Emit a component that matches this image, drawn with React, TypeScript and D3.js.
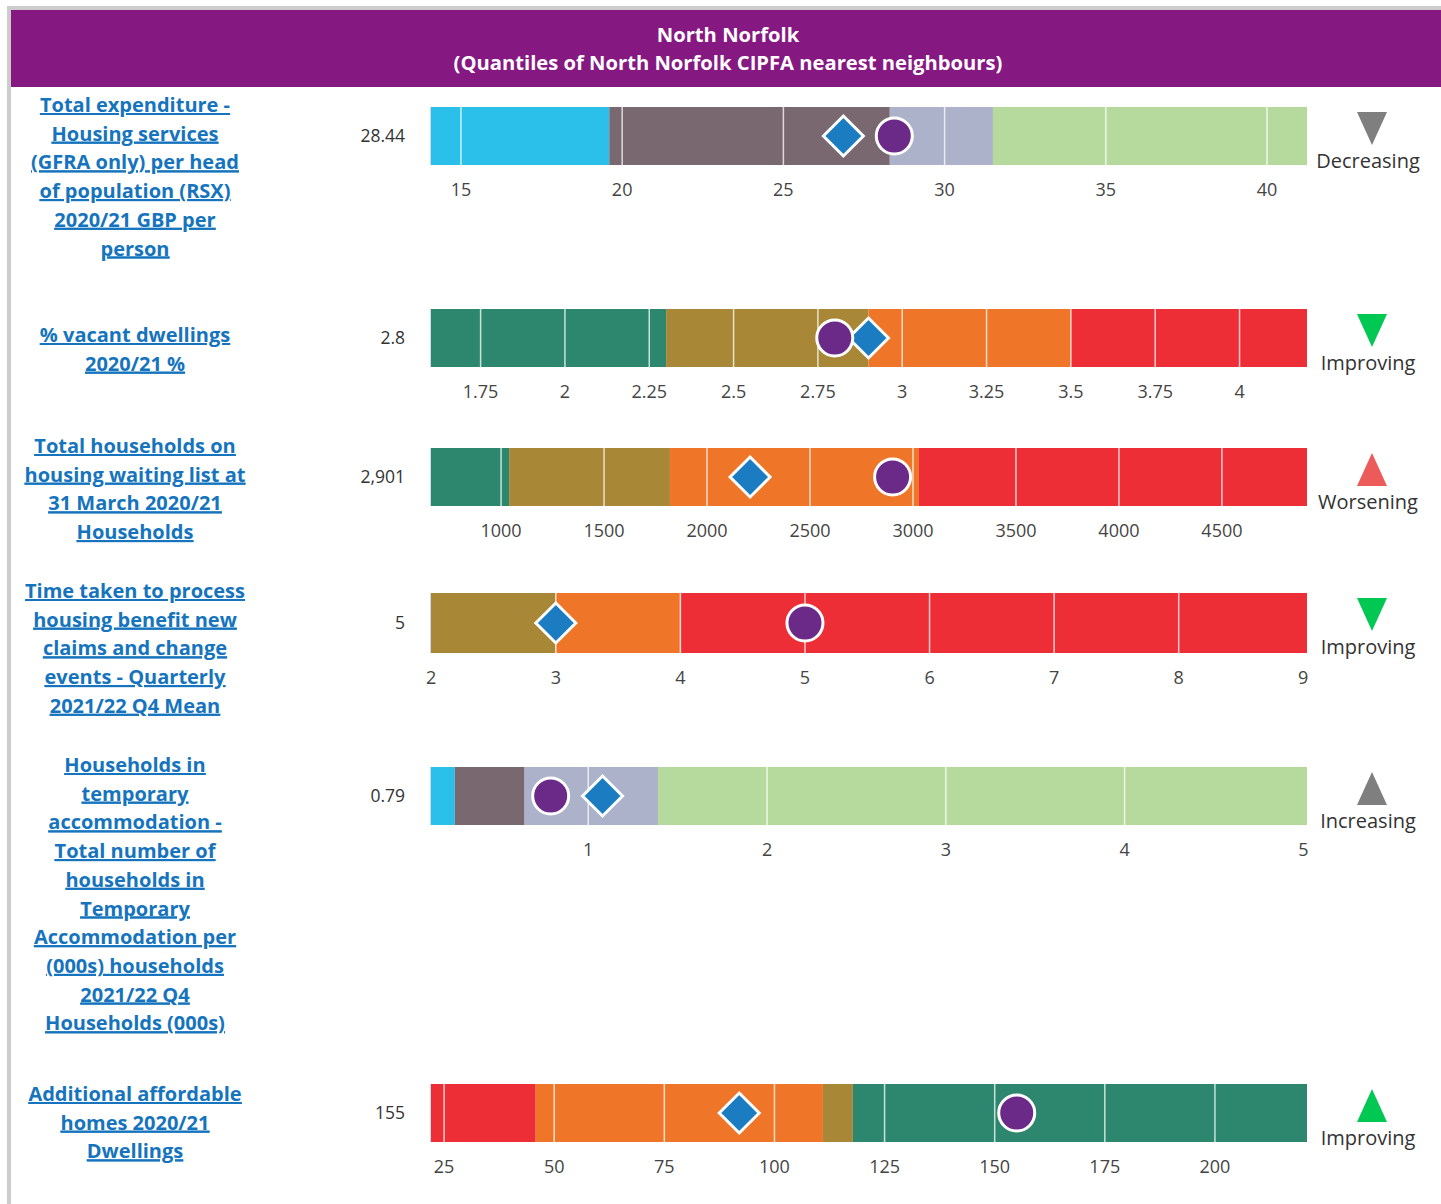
import React from "react";
import * as d3 from "d3";

// ---- data ----
const indicatorLabels = [
  ["Total expenditure -", "Housing services", "(GFRA only) per head", "of population (RSX)", "2020/21 GBP per", "person"],
  ["% vacant dwellings", "2020/21 %"],
  ["Total households on", "housing waiting list at", "31 March 2020/21", "Households"],
  ["Time taken to process", "housing benefit new", "claims and change", "events - Quarterly", "2021/22 Q4 Mean"],
  ["Households in", "temporary", "accommodation -", "Total number of", "households in", "Temporary", "Accommodation per", "(000s) households", "2021/22 Q4", "Households (000s)"],
  ["Additional affordable", "homes 2020/21", "Dwellings"],
];
const valueLabels = ["28.44", "2.8", "2,901", "5", "0.79", "155"];
const areaValues = [28.44, 2.8, 2901, 5, 0.79, 155];
const neighbourMeans = [26.86, 2.9, 2209, 3, 1.08, 92];
const axisExtents = [
  [14.04, 41.24],
  [1.6, 4.2],
  [655, 4913],
  [1.99, 9.03],
  [0.115, 5.02],
  [21.8, 220.9],
];
const bandBreaks = [
  [14.04, 19.6, 28.3, 31.5, 41.24],
  [1.6, 2.3, 2.9, 3.5, 4.2],
  [655, 1039, 1820, 3029, 4913],
  [1.99, 3, 4, 9.03],
  [0.115, 0.254, 0.644, 1.39, 5.02],
  [21.8, 45.8, 111, 117.8, 220.9],
];
const tickValues = [
  [15, 20, 25, 30, 35, 40],
  [1.75, 2, 2.25, 2.5, 2.75, 3, 3.25, 3.5, 3.75, 4],
  [1000, 1500, 2000, 2500, 3000, 3500, 4000, 4500],
  [2, 3, 4, 5, 6, 7, 8, 9],
  [1, 2, 3, 4, 5],
  [25, 50, 75, 100, 125, 150, 175, 200],
];
const trendLabels = ["Decreasing", "Improving", "Worsening", "Improving", "Increasing", "Improving"];
const trendDirections = ["down", "down", "up", "down", "up", "up"];

// ---- styles / layout ----
const C = {
  cyan: "#2bc0ea",
  mauve: "#7a6870",
  lilac: "#acb2c9",
  lime: "#b6da9e",
  green: "#2d876e",
  olive: "#a88836",
  orange: "#ef7628",
  red: "#ee2e36",
};
const bandColours = [
  [C.cyan, C.mauve, C.lilac, C.lime],
  [C.green, C.olive, C.orange, C.red],
  [C.green, C.olive, C.orange, C.red],
  [C.olive, C.orange, C.red],
  [C.cyan, C.mauve, C.lilac, C.lime],
  [C.red, C.orange, C.olive, C.green],
];
const trendColours = ["#7f7f7f", "#00c853", "#ec5a5a", "#00c853", "#7f7f7f", "#00c853"];
const barTops = [107, 309, 448, 593, 767, 1084];
const labelTops = [105, 335, 446, 591, 765, 1094];
const barH = 58;
const x0 = 430;
const x1 = 1307;
const font = "'Open Sans', 'Noto Sans', sans-serif";

const Row = ({ i }: { i: number }) => {
  const x = d3.scaleLinear().domain(axisExtents[i]).range([x0, x1]);
  const top = barTops[i];
  const h = i === 3 ? 60 : barH;
  const cy = top + h / 2;
  const bands = d3.pairs(bandBreaks[i]);
  const fmt = d3.format("");
  const dx = x(neighbourMeans[i]);
  const dr = 20;
  const arrowX = 1372;
  const ty = top + 5;
  const tri =
    trendDirections[i] === "down"
      ? `M${arrowX - 15},${ty}L${arrowX + 15},${ty}L${arrowX},${ty + 33}Z`
      : `M${arrowX},${ty}L${arrowX + 15},${ty + 33}L${arrowX - 15},${ty + 33}Z`;
  // grid lines only where they sit inside the bar
  const gridTicks = tickValues[i].filter((t) => x(t) > x0 + 4 && x(t) < x1 - 6);
  return (
    <g>
      <text
        x={135}
        y={labelTops[i]}
        textAnchor="middle"
        fontFamily={font}
        fontWeight={700}
        fontSize={20}
        fill="#1574bd"
        textDecoration="underline"
      >
        {indicatorLabels[i].map((l, k) => (
          <tspan key={k} x={135} y={labelTops[i] + k * 28.7} dy="0.35em" textDecoration="underline">
            {l}
          </tspan>
        ))}
      </text>
      <text x={405} y={cy} dy="0.35em" textAnchor="end" fontFamily={font} fontSize={17.5} fill="#333">
        {valueLabels[i]}
      </text>
      {bands.map(([a, b], k) => (
        <rect key={k} x={x(a)} y={top} width={x(b) - x(a)} height={h} fill={bandColours[i][k]} />
      ))}
      {gridTicks.map((t, k) => (
        <line
          key={k}
          x1={x(t)}
          x2={x(t)}
          y1={top}
          y2={top + h}
          stroke="#fff"
          strokeOpacity={0.75}
          strokeWidth={1.5}
        />
      ))}
      <line x1={x0 + 0.5} x2={x0 + 0.5} y1={top} y2={top + h} stroke="#cdd8ea" strokeWidth={1} />
      {tickValues[i].map((t, k) => (
        <text
          key={k}
          x={x(t)}
          y={top + h + 25}
          dy="0.35em"
          textAnchor="middle"
          fontFamily={font}
          fontSize={18}
          fill="#444"
        >
          {fmt(t)}
        </text>
      ))}
      <path
        d={`M${dx},${cy - dr}L${dx + dr},${cy}L${dx},${cy + dr}L${dx - dr},${cy}Z`}
        fill="#1b7cc2"
        stroke="#fff"
        strokeWidth={3}
      />
      <circle cx={x(areaValues[i])} cy={cy} r={18} fill="#6b2a87" stroke="#fff" strokeWidth={3} />
      <path d={tri} fill={trendColours[i]} />
      <text
        x={arrowX - 4}
        y={top + 54}
        dy="0.35em"
        textAnchor="middle"
        fontFamily={font}
        fontSize={20}
        fill="#333"
      >
        {trendLabels[i]}
      </text>
    </g>
  );
};

export default function App() {
  return (
    <svg
      width={1441}
      height={1204}
      style={{ position: "absolute", left: 0, top: 0, background: "#fff" }}
    >
      <rect x={7} y={6} width={1434} height={4} fill="#cccccc" />
      <rect x={7} y={6} width={4} height={1198} fill="#cccccc" />
      <rect x={11} y={10} width={1430} height={77} fill="#861882" />
      <text x={728} y={35} dy="0.35em" textAnchor="middle" fontFamily={font} fontWeight={700} fontSize={20.2} fill="#fff">
        North Norfolk
      </text>
      <text x={728} y={63} dy="0.35em" textAnchor="middle" fontFamily={font} fontWeight={700} fontSize={20.2} fill="#fff">
        (Quantiles of North Norfolk CIPFA nearest neighbours)
      </text>
      {indicatorLabels.map((_, i) => (
        <Row key={i} i={i} />
      ))}
    </svg>
  );
}
